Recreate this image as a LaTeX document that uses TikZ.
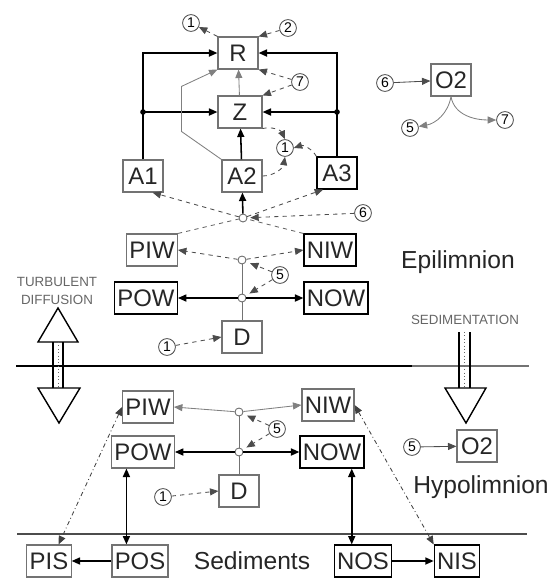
\documentclass[tikz,border=0pt]{standalone}
\usepackage{fontspec}
\setmainfont{Liberation Sans}
\usetikzlibrary{arrows, arrows.meta, positioning, calc}
\tikzset{
    box/.style={rectangle, draw=black!55, line width=0.8pt, minimum width=1cm, minimum height=0.8cm, inner sep=2pt, text centered, text=black!85, font=\fontsize{17}{20}\selectfont},
    darkbox/.style={box, draw=black},
    num/.style={circle, draw=black!70, line width=0.6pt, minimum size=0.42cm, inner sep=0pt, font=\fontsize{10}{12}\selectfont},
    hub/.style={circle, draw=black!60, line width=0.6pt, fill=white, minimum size=0.2cm, inner sep=0pt},
    arrow/.style={line width=1.1pt, ->, >={Triangle[length=6pt, width=5pt]}},
    thinarrow/.style={black!50, line width=0.6pt, ->, >={Triangle[length=6pt, width=5pt]}},
    dasharrow/.style={black!70, line width=0.6pt, dashed, ->, >={Triangle[length=6pt, width=5pt]}},
    dashline/.style={black!60, line width=0.6pt, dashed},
    thinline/.style={black!55, line width=0.6pt},
    dotdash/.style={black!75, line width=0.6pt, dash dot, <->, >={Triangle[length=6pt, width=5pt]}},
    caps/.style={black!60, align=center, font=\fontsize{9.5}{12.5}\selectfont},
    layer/.style={text=black!85, font=\fontsize{17.5}{20}\selectfont}
}
\begin{document}
\begin{tikzpicture}[x=0.025cm, y=-0.025cm]
        \useasboundingbox (0,0) rectangle (554,581);

        % Surface and sediment lines
        \draw[line width=1pt] (16,366) -- (412,366);
        \draw[line width=1pt, black!55] (412,366) -- (529,366);
        \draw[line width=1pt, black!70] (17,534) -- (527,534);

        % Epilimnion: food web
        \node (R) [box] at (238,53) {R};
        \node (Z) [box, minimum width=1.1cm] at (240,112) {Z};
        \node (A1) [box] at (143,176) {A1};
        \node (A2) [box] at (242,176) {A2};
        \node (A3) [darkbox] at (337,173) {A3};
        \node (n1top) [num] at (191,23) {1};
        \node (n2top) [num] at (288,28) {2};
        \node (n7a) [num] at (300,82) {7};
        \node (n1mid) [num] at (285,148) {1};

        \draw[dasharrow] (R.north west) -- (n1top);
        \draw[dasharrow] (n2top) -- (R.north east);
        \draw[dasharrow] (n7a) -- (R.south east);
        \draw[dasharrow] (n7a) -- (Z.north east);
        \draw[arrow] (A1.north) |- (R.west);
        \draw[arrow] (A1.north |- Z.west) -- (Z.west);
        \fill (A1.north |- Z.west) circle (2pt);
        \draw[arrow] (A3.north) |- (R.east);
        \draw[arrow] (A3.north |- Z.east) -- (Z.east);
        \fill (A3.north |- Z.east) circle (2pt);
        \draw[arrow] (A2) -- (Z);
        \draw[thinarrow] (Z) -- (R);
        \draw[thinarrow] (A2.north west) -- ++(-40,-28) -- ++(0,-45) -- (R.south west);
        \draw[dasharrow] (Z.south east) to[bend left=40] (n1mid.north);
        \draw[dasharrow] (A2.east) to[bend right=40] (n1mid.south);
        \draw[dasharrow] (A3.north west) to[bend right=40] (n1mid.east);

        % Epilimnion: nutrients
        \node (hubA) [hub] at (243,218) {};
        \node (PIW1) [box] at (152,250) {PIW};
        \node (NIW1) [darkbox] at (330,250) {NIW};
        \node (hubI1) [hub] at (242,260) {};
        \node (hubO1) [hub] at (242,298) {};
        \node (POW1) [darkbox] at (146,298) {POW};
        \node (NOW1) [darkbox] at (336,298) {NOW};
        \node (D1) [box] at (242,337) {D};
        \node (n6a) [num] at (363,213) {6};
        \node (n5a) [num] at (280,275) {5};
        \node (n1a) [num] at (167,347) {1};

        \draw[dasharrow] (hubA) -- (A1.-60);
        \draw[arrow] (hubA) -- (A2);
        \draw[dasharrow] (hubA) -- (A3.-130);
        \draw[dasharrow, shorten >=2pt] (n6a) -- (hubA);
        \draw[dashline] (PIW1.north east) -- (hubA);
        \draw[dashline] (NIW1.north west) -- (hubA);
        \draw[dasharrow] (hubI1) -- (PIW1.east);
        \draw[dasharrow] (hubI1) -- (NIW1.west);
        \draw[thinline] (hubI1) -- (hubO1);
        \draw[thinline] (hubO1) -- (D1);
        \draw[arrow] (hubO1) -- (POW1);
        \draw[arrow] (hubO1) -- (NOW1);
        \draw[dasharrow, shorten >=3pt] (n5a) -- (hubI1);
        \draw[dasharrow, shorten >=3pt] (n5a) -- (hubO1);
        \draw[dasharrow] (n1a) -- (D1.west);

        % Oxygen
        \node (O2a) [box] at (451,80) {O2};
        \node (n6b) [num] at (385,83) {6};
        \node (n5b) [num] at (410,128) {5};
        \node (n7b) [num] at (505,120) {7};
        \draw[thinarrow, black!70] (n6b) -- (O2a);
        \draw[thinarrow] (O2a.south) to[out=-100, in=10] (n5b);
        \draw[thinarrow] (O2a.south) to[out=-80, in=180] (n7b);

        % Hypolimnion
        \node (PIW2) [box] at (148,407) {PIW};
        \node (NIW2) [box] at (328,405) {NIW};
        \node (hubI2) [hub] at (239,412) {};
        \node (hubO2) [hub] at (239,452) {};
        \node (POW2) [box] at (143,452) {POW};
        \node (NOW2) [darkbox] at (332,452) {NOW};
        \node (D2) [box] at (239,491) {D};
        \node (n5c) [num] at (277,429) {5};
        \node (n1b) [num] at (163,497) {1};
        \node (O2b) [box] at (477,446) {O2};
        \node (n5d) [num] at (412,447) {5};

        \draw[thinarrow] (hubI2) -- (PIW2.east);
        \draw[thinarrow] (hubI2) -- (NIW2.west);
        \draw[thinline] (hubI2) -- (hubO2);
        \draw[thinline] (hubO2) -- (D2);
        \draw[arrow] (hubO2) -- (POW2);
        \draw[arrow] (hubO2) -- (NOW2);
        \draw[dasharrow, shorten >=3pt] (n5c) -- (hubI2);
        \draw[dasharrow, shorten >=3pt] (n5c) -- (hubO2);
        \draw[dasharrow] (n1b) -- (D2.west);
        \draw[thinarrow, black!70] (n5d) -- (O2b);

        % Sediments
        \node (PIS) [box] at (49,561) {PIS};
        \node (POS) [box] at (140,561) {POS};
        \node (NOS) [darkbox] at (363,561) {NOS};
        \node (NIS) [darkbox] at (457,561) {NIS};
        \draw[arrow] (POS) -- (PIS);
        \draw[arrow] (NOS) -- (NIS);
        \draw[arrow, <->] (POW2.-135) -- (POW2.-135 |- POS.north);
        \draw[arrow, <->] (NOW2.-40) -- (NOW2.-40 |- NOS.north);
        \draw[dotdash] (PIW2.west) -- (PIS.60);
        \draw[dotdash] (NIW2.east) -- (NIS.north west);

        % Layer labels
        \node (epi) [layer] at (458,262) {Epilimnion};
        \node (hypo) [layer] at (481,487) {Hypolimnion};
        \node (sed) [layer] at (252,561) {Sediments};
        \node (turb) [caps] at (57,291) {TURBULENT\\DIFFUSION};
        \node (sedim) [caps] at (465,320) {SEDIMENTATION};

        % Turbulent diffusion arrow
        \draw[line width=1pt, fill=white] (38,342) -- (58,308) -- (78,342) -- cycle;
        \draw[line width=1.2pt] (53,342) -- (53,388) (63,342) -- (63,388);
        \draw[dotted, black!60] (58,342) -- (58,388);
        \draw[line width=1pt, fill=white] (38,388) -- (80,388) -- (59,423) -- cycle;

        % Sedimentation arrow
        \draw[line width=1.2pt] (459,332) -- (459,388) (470,332) -- (470,388);
        \draw[dotted, black!60] (464.5,332) -- (464.5,388);
        \draw[line width=1pt, fill=white] (445,388) -- (486,388) -- (466,423) -- cycle;
    \end{tikzpicture}
\end{document}
